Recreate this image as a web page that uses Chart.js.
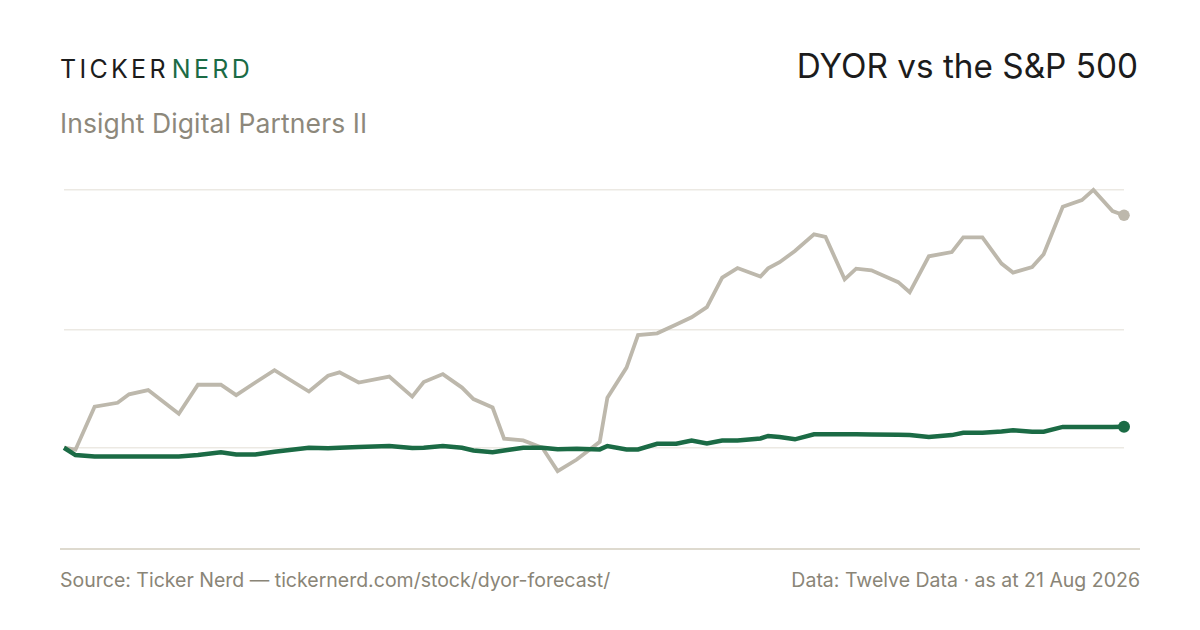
<!DOCTYPE html>
<html>
<head>
<meta charset="utf-8">
<title>DYOR vs the S&amp;P 500</title>
<script src="https://cdn.jsdelivr.net/npm/chart.js@4.4.1/dist/chart.umd.min.js"></script>
<style>
    html, body {
        margin: 0;
        padding: 0;
        background: #ffffff;
    }
    body {
        width: 1200px;
        height: 630px;
        position: relative;
        overflow: hidden;
        font-family: Inter, "Noto Sans", sans-serif;
    }
    .logo {
        position: absolute;
        left: 60px;
        top: 57px;
        font-size: 25px;
        line-height: 25px;
        letter-spacing: 3.3px;
        color: #1c1c1c;
        white-space: nowrap;
    }
    .logo .nerd {
        color: #1b6b45;
        margin-left: 3px;
    }
    .subtitle {
        position: absolute;
        left: 60px;
        top: 110px;
        font-size: 26.5px;
        line-height: 26.5px;
        letter-spacing: 0.1px;
        color: #8d887b;
        white-space: nowrap;
    }
    .title {
        position: absolute;
        right: 62px;
        top: 50px;
        font-size: 33.3px;
        line-height: 33.3px;
        color: #1c1c1c;
        white-space: nowrap;
    }
    .chart-box {
        position: absolute;
        left: 54px;
        top: 163.5px;
        width: 1080px;
        height: 383.5px;
    }
    .rule {
        position: absolute;
        left: 60px;
        top: 548px;
        width: 1080px;
        height: 1.5px;
        background: #dedacf;
    }
    .source, .credit {
        position: absolute;
        top: 570.5px;
        font-size: 19.5px;
        line-height: 19.5px;
        color: #8a8577;
        white-space: nowrap;
    }
    .source { left: 60px; }
    .credit { right: 60px; }
</style>
</head>
<body>

<div class="logo">TICKER<span class="nerd">NERD</span></div>
<div class="subtitle">Insight Digital Partners II</div>
<div class="title">DYOR vs the S&amp;P 500</div>

<div class="chart-box"><canvas id="priceChart"></canvas></div>

<div class="rule"></div>
<div class="source">Source: Ticker Nerd — tickernerd.com/stock/dyor-forecast/</div>
<div class="credit">Data: Twelve Data · as at 21 Aug 2026</div>

<script>
// trading days since the start of the window
var days = [0, 3, 8, 14, 17, 22, 30, 35, 41, 45, 50, 55, 64, 69, 72, 77, 85, 91, 94, 99,
    104, 107, 112, 115, 120, 125, 129, 134, 140, 142, 147, 150, 155, 160, 164, 168, 172, 176, 182, 184,
    187, 191, 196, 199, 204, 207, 211, 218, 221, 226, 232, 235, 240, 245, 248, 253, 256, 261, 266, 269,
    274, 277];

// DYOR close, USD
var dyor = [10.081, 10.074, 10.227, 10.241, 10.271, 10.286, 10.202, 10.305, 10.305, 10.268,
    10.313, 10.357, 10.281, 10.337, 10.349, 10.313, 10.334, 10.263, 10.315, 10.343,
    10.295, 10.254, 10.224, 10.113, 10.107, 10.081, 9.998, 10.039, 10.102, 10.259,
    10.366, 10.482, 10.488, 10.519, 10.545, 10.581, 10.686, 10.720, 10.690, 10.719,
    10.741, 10.781, 10.840, 10.831, 10.680, 10.718, 10.712, 10.670, 10.634, 10.762,
    10.777, 10.829, 10.829, 10.736, 10.704, 10.724, 10.769, 10.938, 10.962, 10.998,
    10.923, 10.908];

// S&P 500 rebased to DYOR's first close
var spx = [10.081, 10.055, 10.050, 10.050, 10.050, 10.050, 10.050, 10.055, 10.065, 10.057,
    10.057, 10.067, 10.081, 10.079, 10.081, 10.084, 10.087, 10.080, 10.081, 10.087,
    10.081, 10.071, 10.065, 10.071, 10.081, 10.081, 10.076, 10.077, 10.075, 10.087,
    10.075, 10.075, 10.095, 10.095, 10.107, 10.096, 10.107, 10.107, 10.114, 10.123,
    10.119, 10.111, 10.129, 10.129, 10.129, 10.129, 10.128, 10.127, 10.126, 10.119,
    10.126, 10.134, 10.134, 10.139, 10.143, 10.138, 10.138, 10.155, 10.155, 10.155,
    10.155, 10.156];

// horizontal guides: the starting level plus two price levels
var guideTicks = [10.081, 10.5, 11.0];

var GREEN = '#1b6b45';
var STONE = '#bdb8ac';

function toPoints(xs, ys) {
    var pts = [];
    for (var i = 0; i < xs.length; i++) {
        pts.push({ x: xs[i], y: ys[i] });
    }
    return pts;
}

function lastOnly(r) {
    return function (ctx) {
        return ctx.dataIndex === ctx.dataset.data.length - 1 ? r : 0;
    };
}

var ctx = document.getElementById('priceChart').getContext('2d');
new Chart(ctx, {
    type: 'line',
    data: {
        datasets: [{
                label: 'S&P 500',
                data: toPoints(days, spx),
                borderColor: GREEN,
                backgroundColor: GREEN,
                borderWidth: 4.5,
                pointRadius: lastOnly(6),
                pointBorderWidth: 0,
                pointBackgroundColor: GREEN,
                tension: 0,
                clip: false,
                order: 1
            },
            {
                label: 'DYOR',
                data: toPoints(days, dyor),
                borderColor: STONE,
                backgroundColor: STONE,
                borderWidth: 3.8,
                pointRadius: lastOnly(5.8),
                pointBorderWidth: 0,
                pointBackgroundColor: STONE,
                tension: 0,
                clip: false,
                order: 2
            }
        ]
    },
    options: {
        responsive: true,
        maintainAspectRatio: false,
        animation: false,
        layout: {
            padding: { left: 10, right: 10, top: 0, bottom: 0 }
        },
        plugins: {
            legend: { display: false },
            tooltip: { enabled: false }
        },
        scales: {
            x: {
                type: 'linear',
                display: false,
                min: 0,
                max: 277
            },
            y: {
                min: 9.7475,
                max: 11.0689,
                afterBuildTicks: function (axis) {
                    axis.ticks = guideTicks.map(function (v) { return { value: v }; });
                },
                border: { display: false },
                ticks: { display: false },
                grid: {
                    color: '#ece9e3',
                    lineWidth: 1.5,
                    drawTicks: false
                }
            }
        }
    }
});
</script>
</body>
</html>
